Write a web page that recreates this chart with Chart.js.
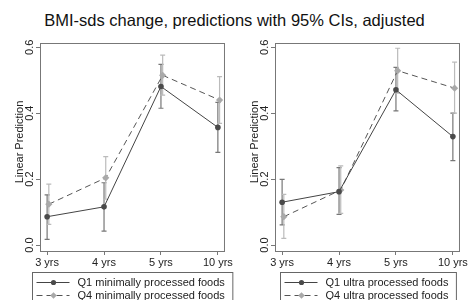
<!doctype html>
<html lang="en">
<head>
<meta charset="utf-8">
<script src="https://cdn.jsdelivr.net/npm/chart.js"></script>
<style>
  body { margin: 0; background: #fff; width: 469px; height: 300px; overflow: hidden; font-family: "Liberation Sans", Arial, sans-serif; }
  #title { height: 38px; line-height: 40px; text-align: center; font-size: 16.5px; color: #111; }
  .panel { position: absolute; top: 38px; width: 234px; height: 262px; }
</style>
</head>
<body>
<div id="title">BMI-sds change, predictions with 95% CIs, adjusted</div>
<div class="panel" style="left:0"><canvas id="left"></canvas></div>
<div class="panel" style="left:235px"><canvas id="right"></canvas></div>
<script>
// time points and y ticks
var labels = ["3 yrs", "4 yrs", "5 yrs", "10 yrs"];
var yTicks = [0, 0.2, 0.4, 0.6];

// left panel: minimally processed foods
var minQ1 = [0.086, 0.116, 0.481, 0.357];
var minQ1Lo = [0.017, 0.042, 0.415, 0.281];
var minQ1Hi = [0.152, 0.189, 0.548, 0.433];
var minQ4 = [0.124, 0.204, 0.515, 0.440];
var minQ4Lo = [0.063, 0.139, 0.455, 0.369];
var minQ4Hi = [0.185, 0.268, 0.576, 0.511];

// right panel: ultra processed foods
var ultQ1 = [0.130, 0.162, 0.471, 0.329];
var ultQ1Lo = [0.061, 0.093, 0.407, 0.256];
var ultQ1Hi = [0.199, 0.235, 0.539, 0.400];
var ultQ4 = [0.086, 0.167, 0.529, 0.476];
var ultQ4Lo = [0.020, 0.096, 0.461, 0.400];
var ultQ4Hi = [0.154, 0.240, 0.597, 0.555];

var FONT = '"Liberation Sans", Arial, sans-serif';
var DODGE = 0.03;

function pts(vals, lo, hi, shift) {
  return vals.map(function(v, i) { return { x: i + shift, y: v, lo: lo[i], hi: hi[i] }; });
}

var stataPlugin = {
  id: "stata",
  beforeDatasetsDraw: function(chart) {
    var c = chart.ctx, xs = chart.scales.x, ys = chart.scales.y;
    chart.data.datasets.forEach(function(ds) {
      c.save();
      c.strokeStyle = ds.ciColor;
      c.lineWidth = 1.2;
      ds.data.forEach(function(p) {
        var x = xs.getPixelForValue(p.x), y1 = ys.getPixelForValue(p.lo), y2 = ys.getPixelForValue(p.hi);
        c.beginPath();
        c.moveTo(x, y1); c.lineTo(x, y2);
        c.moveTo(x - 2.5, y1); c.lineTo(x + 2.5, y1);
        c.moveTo(x - 2.5, y2); c.lineTo(x + 2.5, y2);
        c.stroke();
      });
      c.restore();
    });
  },
  afterDraw: function(chart) {
    var c = chart.ctx, a = chart.chartArea, ys = chart.scales.y;
    c.save();
    // plot region box
    c.strokeStyle = "#777";
    c.lineWidth = 1;
    c.strokeRect(a.left + 0.5, a.top + 0.5, a.right - a.left - 1, a.bottom - a.top);
    // rotated y tick labels and axis title
    c.fillStyle = "#222";
    c.font = "11px " + FONT;
    c.textAlign = "center";
    c.textBaseline = "middle";
    yTicks.forEach(function(t) {
      c.save();
      c.translate(30, ys.getPixelForValue(t));
      c.rotate(-Math.PI / 2);
      c.fillText(t.toFixed(1), 0, 0);
      c.restore();
    });
    c.save();
    c.translate(19.5, (a.top + a.bottom) / 2 - 5);
    c.rotate(-Math.PI / 2);
    c.fillText("Linear Prediction", 0, 0);
    c.restore();
    // legend box
    var names = chart.config.options.legendNames;
    var tw = Math.max(c.measureText(names[0]).width, c.measureText(names[1]).width);
    var bw = 45 + tw + 8;
    var cx = (a.left + a.right) / 2;
    var bx = Math.round(cx - bw / 2) + 0.5, by = 234.5;
    c.strokeStyle = "#666";
    c.strokeRect(bx, by, bw, 40);
    c.textAlign = "left";
    chart.data.datasets.forEach(function(ds, i) {
      var ly = by + 10 + i * 13;
      c.strokeStyle = ds.borderColor;
      c.lineWidth = 1;
      c.setLineDash(ds.borderDash || []);
      c.beginPath();
      c.moveTo(bx + 4, ly); c.lineTo(bx + 37, ly);
      c.stroke();
      c.setLineDash([]);
      c.fillStyle = ds.pointBackgroundColor;
      c.beginPath();
      if (ds.pointStyle === "rectRot") {
        c.moveTo(bx + 21, ly - 3.3); c.lineTo(bx + 24.3, ly); c.lineTo(bx + 21, ly + 3.3); c.lineTo(bx + 17.7, ly);
      } else {
        c.arc(bx + 21, ly, 2.6, 0, Math.PI * 2);
      }
      c.fill();
      c.fillStyle = "#222";
      c.fillText(names[i], bx + 45, ly + 0.5);
    });
    c.restore();
  }
};

function makeChart(id, q1, q4, names) {
  return new Chart(document.getElementById(id), {
    type: "line",
    data: {
      datasets: [
        { label: names[0], data: q1, borderColor: "#444", borderWidth: 1, pointStyle: "circle", pointRadius: 2.8,
          pointBackgroundColor: "#4a4a4a", pointBorderWidth: 0, ciColor: "#777" },
        { label: names[1], data: q4, borderColor: "#555", borderWidth: 1, borderDash: [6, 4], pointStyle: "rectRot",
          pointRadius: 3.6, pointBackgroundColor: "#a9a9a9", pointBorderWidth: 0, ciColor: "#bbb" }
      ]
    },
    options: {
      responsive: false,
      animation: false,
      legendNames: names,
      layout: { padding: { left: 0, top: 5, right: 4, bottom: 0 } },
      plugins: { legend: { display: false }, tooltip: { enabled: false } },
      scales: {
        x: {
          type: "linear", min: -0.125, max: 3.125,
          afterBuildTicks: function(s) { s.ticks = labels.map(function(l, i) { return { value: i }; }); },
          afterFit: function(s) { s.height = 49; },
          ticks: { color: "#222", font: { size: 11, family: FONT }, padding: 1, maxRotation: 0,
                   callback: function(v) { return labels[v]; } },
          grid: { drawOnChartArea: false, tickLength: 4, color: "#777" },
          border: { color: "#777" }
        },
        y: {
          min: -0.018, max: 0.613,
          afterBuildTicks: function(s) { s.ticks = yTicks.map(function(v) { return { value: v }; }); },
          afterFit: function(s) { s.width = 40; },
          ticks: { display: false },
          grid: { drawOnChartArea: false, tickLength: 4, color: "#777" },
          border: { color: "#777" }
        }
      }
    },
    plugins: [stataPlugin]
  });
}

document.getElementById("left").width = 234; document.getElementById("left").height = 262;
document.getElementById("right").width = 234; document.getElementById("right").height = 262;

makeChart("left", pts(minQ1, minQ1Lo, minQ1Hi, 0), pts(minQ4, minQ4Lo, minQ4Hi, DODGE),
  ["Q1 minimally processed foods", "Q4 minimally processed foods"]);
makeChart("right", pts(ultQ1, ultQ1Lo, ultQ1Hi, 0), pts(ultQ4, ultQ4Lo, ultQ4Hi, DODGE),
  ["Q1 ultra processed foods", "Q4 ultra processed foods"]);
</script>
</body>
</html>
